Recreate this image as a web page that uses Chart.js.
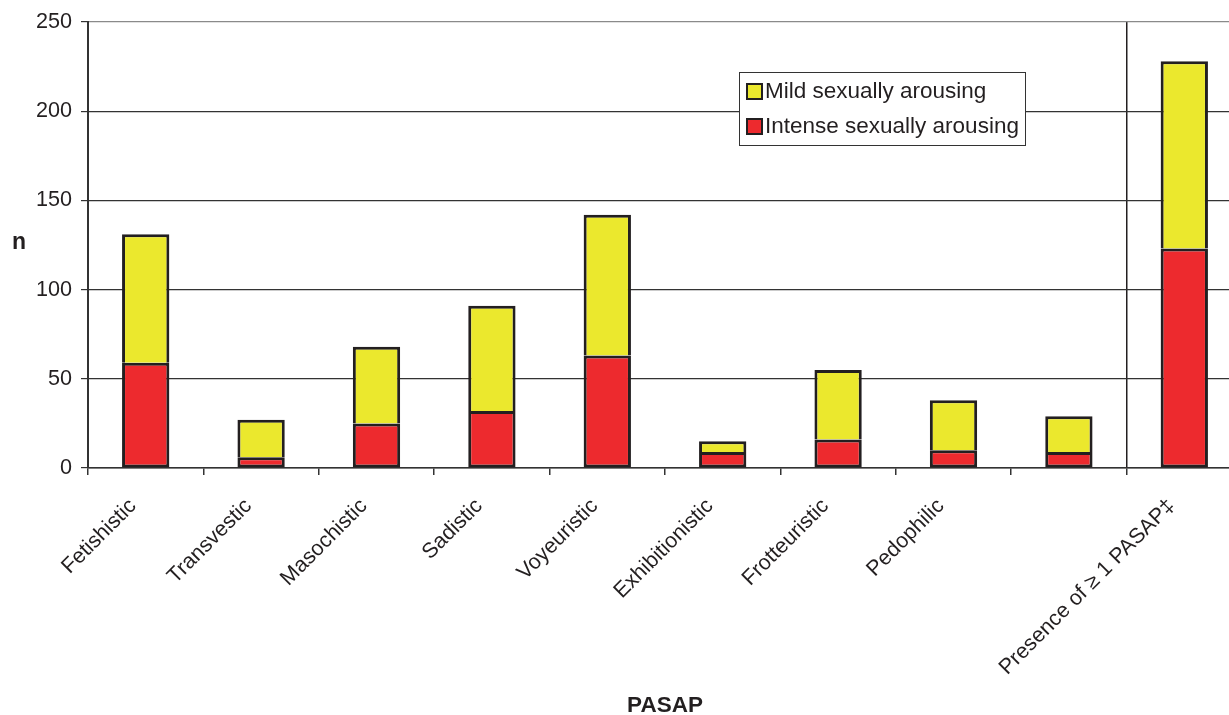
<!DOCTYPE html>
<html>
<head>
<meta charset="utf-8">
<script src="https://cdn.jsdelivr.net/npm/chart.js@4.4.1/dist/chart.umd.min.js"></script>
<style>
  html, body { margin: 0; padding: 0; background: #fff; overflow: hidden; }
  #wrap { position: relative; width: 1242px; height: 715px; }
</style>
</head>
<body>
<div id="wrap"><canvas id="c"></canvas></div>
<script>
const categories = ['Fetishistic', 'Transvestic', 'Masochistic', 'Sadistic', 'Voyeuristic',
  'Exhibitionistic', 'Frotteuristic', 'Pedophilic', '', 'Presence of \u2265 1 PASAP\u2021'];
const intense = [59, 6, 25, 32, 63, 9, 16, 10, 9, 123];
const mild = [72, 21, 43, 59, 79, 6, 39, 28, 20, 105];
const yTicks = [0, 50, 100, 150, 200, 250];

const FONT = '"Liberation Sans", Arial, Helvetica, sans-serif';
const INK = '#231f20';

const extras = {
  id: 'extras',
  afterDraw(chart) {
    const ctx = chart.ctx;
    ctx.save();
    // upright y-axis title
    ctx.fillStyle = INK;
    ctx.font = 'bold 23px ' + FONT;
    ctx.textAlign = 'center';
    ctx.textBaseline = 'middle';
    ctx.fillText('n', 19, 243);
    // legend box
    const lx = 739.5, ly = 72.5, lw = 286, lh = 73;
    ctx.fillStyle = '#fff';
    ctx.fillRect(lx, ly, lw, lh);
    ctx.strokeStyle = '#333';
    ctx.lineWidth = 1;
    ctx.strokeRect(lx, ly, lw, lh);
    const ds = chart.data.datasets.slice().reverse();
    ds.forEach((d, i) => {
      const cy = 92 + i * 35;
      ctx.fillStyle = d.backgroundColor;
      ctx.fillRect(747, cy - 8, 15, 15);
      ctx.strokeStyle = INK;
      ctx.lineWidth = 2;
      ctx.strokeRect(747, cy - 8, 15, 15);
      ctx.fillStyle = INK;
      ctx.font = '22.5px ' + FONT;
      ctx.textAlign = 'left';
      ctx.textBaseline = 'middle';
      ctx.fillText(d.label, 765, cy);
    });
    ctx.restore();
  }
};

new Chart(document.getElementById('c'), {
  type: 'bar',
  data: {
    labels: categories,
    datasets: [
      { label: 'Intense sexually arousing', data: intense, backgroundColor: '#ed2a2e',
        borderColor: INK, borderWidth: 3, borderSkipped: false },
      { label: 'Mild sexually arousing', data: mild, backgroundColor: '#ebe82d',
        borderColor: INK, borderWidth: 3, borderSkipped: 'start' }
    ]
  },
  options: {
    responsive: true,
    maintainAspectRatio: false,
    animation: false,
    layout: { padding: { top: 22, left: 0, right: 0, bottom: 0 } },
    plugins: { legend: { display: false }, tooltip: { enabled: false } },
    datasets: { bar: { barPercentage: 0.41, categoryPercentage: 1.0 } },
    scales: {
      x: {
        stacked: true,
        offset: true,
        grid: {
          offset: true,
          drawOnChartArea: true,
          color: (c) => c.index === 9 ? INK : 'rgba(0,0,0,0)',
          tickColor: '#333',
          tickLength: 7,
          lineWidth: 1.5
        },
        border: { color: '#333', width: 1.5 },
        ticks: {
          color: INK,
          font: { family: FONT, size: 21.5 },
          maxRotation: 45,
          minRotation: 45,
          padding: 6,
          autoSkip: false,
          callback: (v, i) => categories[i] + '   '
        },
        title: {
          display: true,
          text: 'PASAP',
          color: INK,
          font: { family: FONT, size: 22.5, weight: 'bold', lineHeight: 0.8 },
          padding: { top: 0, bottom: 0 }
        },
        afterFit: (s) => { s.height = 715 - 468; }
      },
      y: {
        stacked: true,
        min: 0,
        max: 250,
        afterBuildTicks: (s) => { s.ticks = yTicks.map(v => ({ value: v })); },
        grid: {
          color: (c) => c.tick && c.tick.value === 250 ? '#8a8a8a' : '#333',
          tickColor: '#333',
          tickLength: 7,
          lineWidth: 1.2
        },
        border: { color: '#333', width: 2 },
        ticks: {
          color: INK,
          font: { family: FONT, size: 21.6 },
          padding: 9
        },
        afterFit: (s) => { s.width = 88; }
      }
    }
  },
  plugins: [extras]
});
</script>
</body>
</html>
